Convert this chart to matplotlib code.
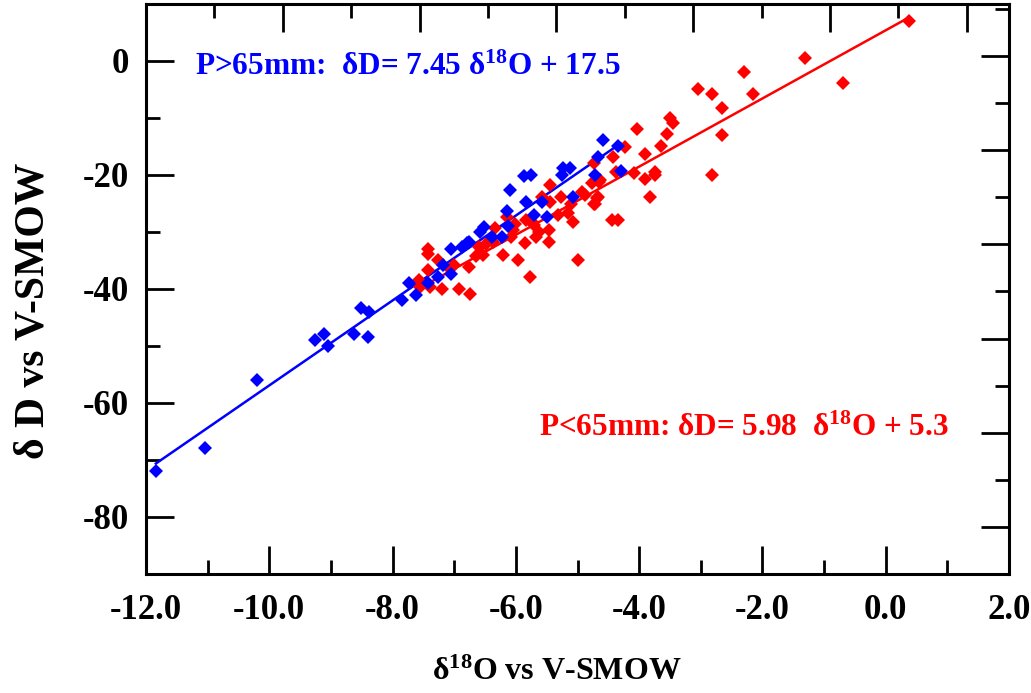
import numpy as np
import matplotlib
matplotlib.use("Agg")
import matplotlib.pyplot as plt
from matplotlib.ticker import FixedLocator

plt.rcParams['font.family'] = ['Liberation Serif', 'DejaVu Serif']
plt.rcParams['font.weight'] = 'bold'
plt.rcParams['axes.labelweight'] = 'bold'
plt.rcParams['axes.unicode_minus'] = False
plt.rcParams['mathtext.fontset'] = 'custom'
plt.rcParams['mathtext.rm'] = 'Liberation Serif:bold'
plt.rcParams['mathtext.it'] = 'Liberation Serif:bold'
plt.rcParams['mathtext.bf'] = 'Liberation Serif:bold'

# P > 65 mm samples (blue)
blue_d18o = [-11.84, -11.04, -10.20, -9.26, -9.11, -9.04, -8.62, -8.40, -8.52, -8.39,
             -7.85, -7.73, -7.62, -7.42, -7.27, -7.05, -7.19, -7.06, -6.87, -6.79,
             -6.76, -6.58, -6.52, -6.39, -6.23, -6.12, -6.15, -6.09, -5.84, -5.58,
             -5.71, -5.50, -5.87, -5.76, -5.25, -5.24, -5.12, -5.07, -4.71, -4.67,
             -4.58, -4.34, -4.30]
blue_dD = [-72.0, -68.0, -56.1, -49.1, -48.0, -50.1, -48.0, -48.5, -43.5, -44.1,
           -42.1, -39.1, -41.1, -39.1, -37.9, -37.5, -35.9, -33.1, -32.7, -32.0,
           -31.8, -30.0, -29.2, -31.0, -31.0, -29.0, -26.4, -22.8, -24.9, -24.9,
           -27.1, -27.5, -20.2, -20.0, -20.1, -18.9, -18.9, -24.0, -20.0, -17.0,
           -13.9, -15.0, -19.3]

# P < 65 mm samples (red)
red_d18o = [0.38, -1.31, -0.69, -2.30, -2.16, -3.04, -2.82, -2.65, -2.65, -2.82,
            -3.50, -3.45, -3.54, -3.65, -4.03, -3.90, -4.23, -4.09, -3.90, -3.74,
            -3.74, -3.82, -4.42, -4.38, -4.73, -4.77, -4.65, -4.88, -4.69, -4.73,
            -4.44, -4.34, -5.45, -5.58, -5.26, -5.10, -5.45, -5.32, -5.15, -5.07,
            -5.47, -5.47, -5.63, -5.74, -5.85, -5.84, -6.04, -5.67, -6.21, -5.96,
            -5.00, -5.77, -7.42, -7.42, -7.27, -7.42, -7.57, -7.56, -7.39, -7.20,
            -6.92, -6.74, -7.00, -6.76, -6.64, -6.53, -6.59, -6.48, -6.37, -6.34,
            -6.15, -6.01, -6.08, -4.63, -4.92, -4.66, -4.72, -5.71, -7.07]
red_dD = [7.0, 0.5, -4.0, -2.0, -5.9, -5.0, -5.8, -8.3, -13.1, -20.0,
          -10.0, -11.0, -12.9, -15.0, -12.0, -16.4, -15.2, -19.8, -20.8, -19.5,
          -20.1, -24.0, -16.9, -19.5, -18.0, -21.5, -21.4, -23.6, -24.2, -25.1,
          -28.0, -28.0, -21.8, -23.9, -24.0, -25.1, -24.8, -27.1, -26.8, -28.3,
          -29.7, -31.8, -30.0, -28.3, -32.1, -28.0, -29.7, -30.9, -34.1, -35.0,
          -35.0, -38.0, -33.0, -34.0, -35.0, -36.8, -38.5, -39.8, -39.7, -40.0,
          -40.0, -41.0, -35.9, -36.2, -34.3, -34.1, -32.7, -32.2, -31.8, -29.4,
          -27.4, -28.6, -31.0, -21.0, -23.0, -24.0, -25.2, -28.9, -36.5]

# regression lines given on the chart
blue_slope, blue_icpt = 7.45, 17.5
red_slope, red_icpt = 5.98, 5.3

xticks = [-12, -10, -8, -6, -4, -2, 0, 2]
yticks = [-80, -60, -40, -20, 0]

fig = plt.figure(figsize=(10.31, 6.93), dpi=100)
ax = fig.add_axes([146/1031, 1 - 573.5/693, (1009-146)/1031, (573.5-3.5)/693])

bx = np.array([min(blue_d18o), max(blue_d18o)])
rx = np.array([-7.6, max(red_d18o)])
ax.plot(bx, blue_slope*bx + blue_icpt, color='#0000ff', lw=1.8, zorder=2)
ax.plot(rx, red_slope*rx + red_icpt, color='#ff0000', lw=1.8, zorder=2)
ax.plot(red_d18o, red_dD, 'D', color='#ff0000', ms=6.8, mew=0, zorder=3)
ax.plot(blue_d18o, blue_dD, 'D', color='#0000ff', ms=6.8, mew=0, zorder=4)

ax.set_xlim(-12, 2)
ax.set_ylim(-90, 10)
ax.xaxis.set_major_locator(FixedLocator(xticks))
ax.xaxis.set_minor_locator(FixedLocator([-11, -9, -7, -5, -3, -1, 1]))
ax.set_xticklabels(['%.1f' % v for v in xticks])
ax.yaxis.set_major_locator(FixedLocator(yticks))
ax.yaxis.set_minor_locator(FixedLocator([-90, -70, -50, -30, -10, 10]))
ax.set_yticklabels(['%d' % v for v in yticks])
ax.tick_params(which='major', direction='in', length=20, width=2, labelsize=25)
ax.tick_params(which='minor', direction='in', length=10, width=2)
ax.tick_params(axis='x', pad=15)
ax.tick_params(axis='y', pad=12)
for s in ax.spines.values():
    s.set_linewidth(2.2)

# top and right frames carry their own tick spacing
axt = ax.twiny()
axt.set_xlim(0, (1009-146)/68.4)
axt.xaxis.set_major_locator(FixedLocator([2, 4, 6, 8, 10, 12]))
axt.xaxis.set_minor_locator(FixedLocator([1, 3, 5, 7, 9, 11]))
axt.tick_params(which='major', direction='in', length=20, width=2, labeltop=False)
axt.tick_params(which='minor', direction='in', length=10, width=2)
axr = ax.twinx()
axr.set_ylim(0, 570/47)
axr.yaxis.set_major_locator(FixedLocator([1, 3, 5, 7, 9, 11]))
axr.yaxis.set_minor_locator(FixedLocator([2, 4, 6, 8, 10, 12]))
axr.tick_params(which='major', direction='in', length=20, width=2, labelright=False)
axr.tick_params(which='minor', direction='in', length=10, width=2)

ax.set_xlabel('δ$^{18}$O vs V-SMOW', fontsize=23)
ax.xaxis.set_label_coords(0.476, -0.148)
ax.set_ylabel('δ D vs V-SMOW', fontsize=30)
ax.yaxis.set_label_coords(-0.108, 0.46)

ax.text(-11.2, -1.2, 'P>65mm:  δD= 7.45 δ$^{18}$O + 17.5', color='#0000ff',
        fontsize=22.5, va='center', ha='left')
ax.text(-5.62, -64.5, 'P<65mm: δD= 5.98  δ$^{18}$O + 5.3', color='#ff0000',
        fontsize=22.5, va='center', ha='left')

fig.savefig('out.png', dpi=100)
